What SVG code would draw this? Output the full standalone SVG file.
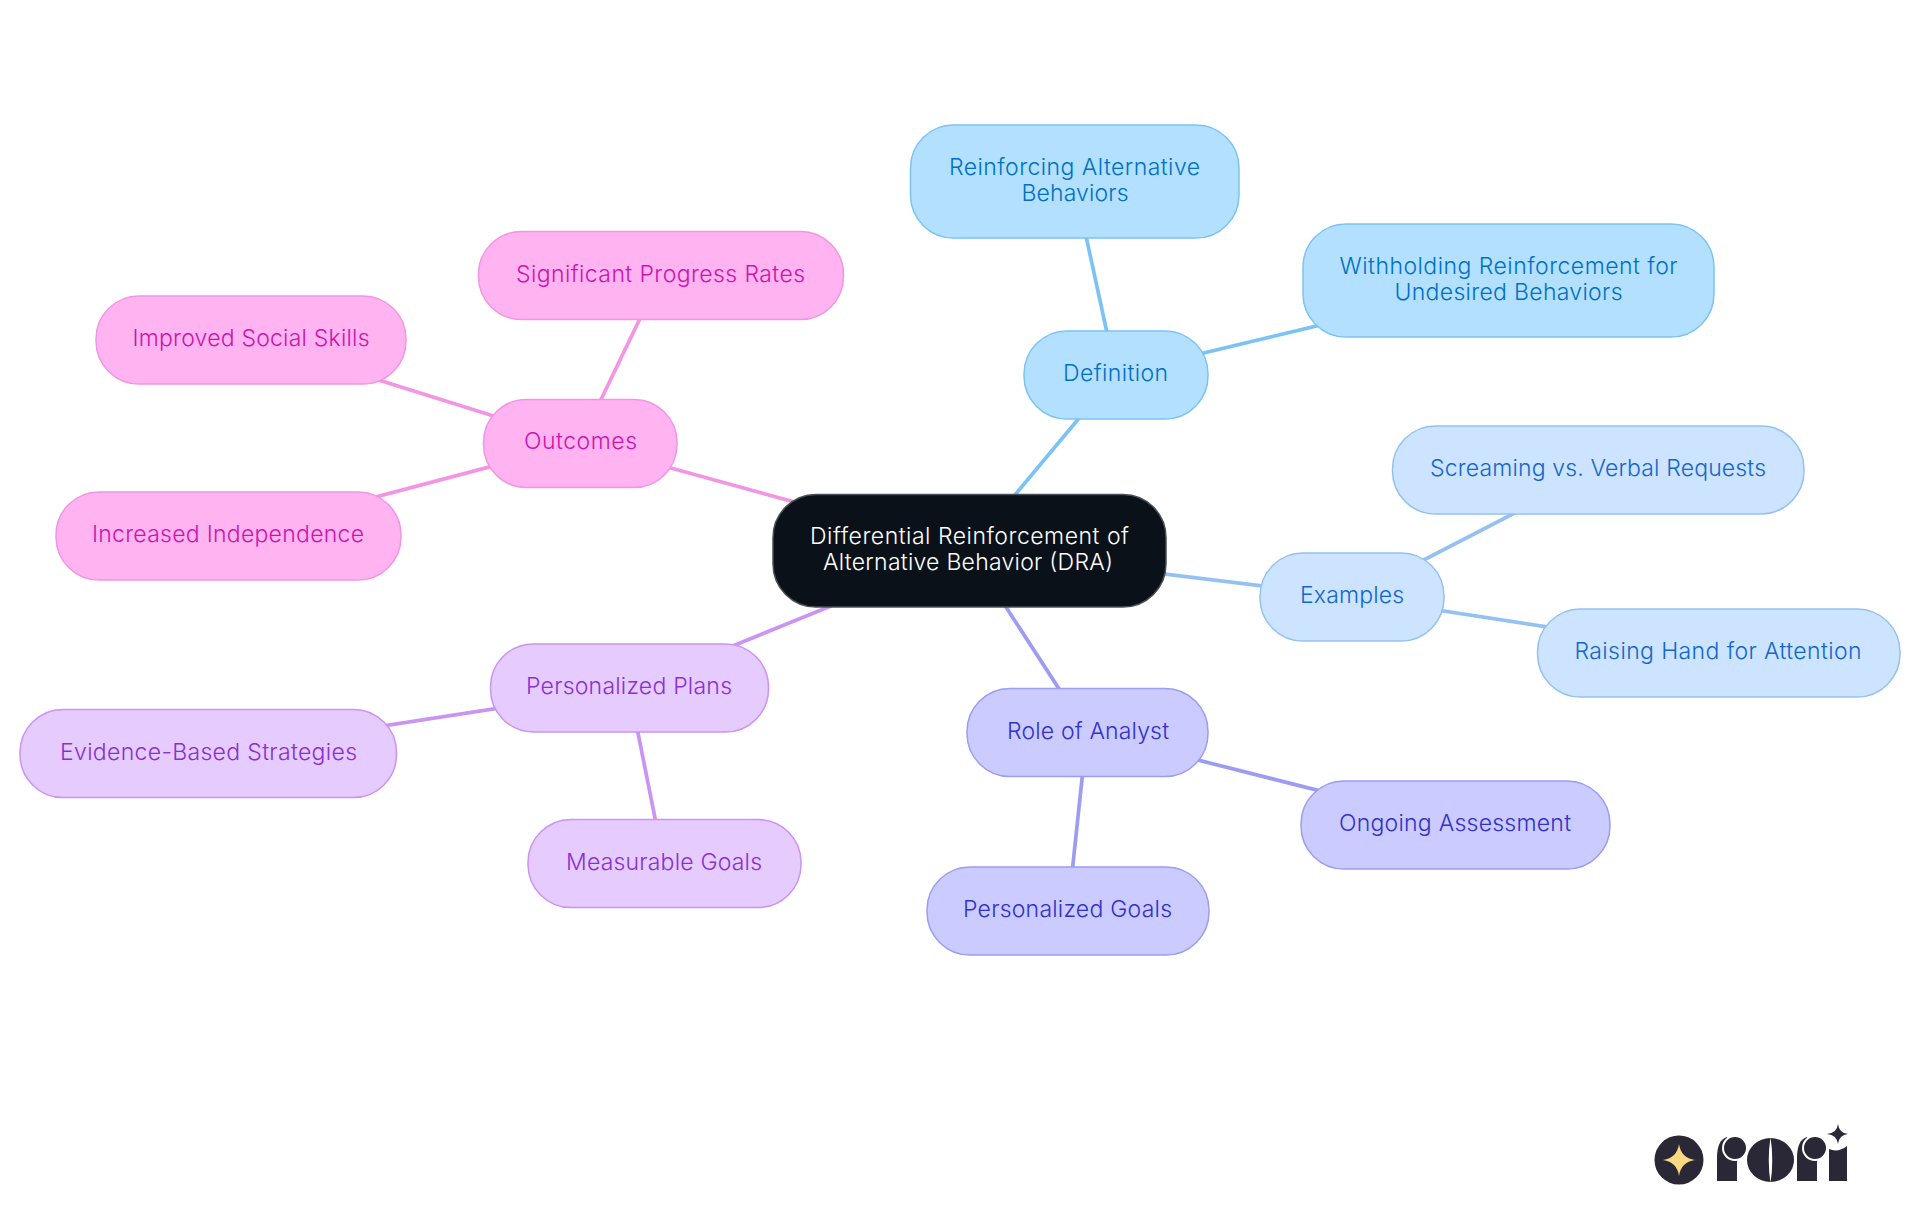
<svg xmlns="http://www.w3.org/2000/svg" width="1920" height="1215" viewBox="0 0 1920 1215">
<style>
text{font-family:"Inter","Noto Sans","Liberation Sans",sans-serif;font-size:23px;font-weight:300;text-anchor:middle}
.n{stroke-width:1.5}
#connectors line{stroke-width:3.7;fill:none}
.b1{fill:#b3e0ff;stroke:#7cc3f5}.b1t{fill:#0070c4}
.b2{fill:#cce4ff;stroke:#94c1f2}.b2t{fill:#1466cc}
.b3{fill:#cbcbff;stroke:#9c9cf2}.b3t{fill:#3030cc}
.b4{fill:#e6cbff;stroke:#c994f2}.b4t{fill:#8a2fd1}
.b5{fill:#ffb3f0;stroke:#f295e3}.b5t{fill:#cc14ad}
.logo{fill:#2a2836}
.gap{fill:#ffffff}
</style>
<rect width="1920" height="1215" fill="#ffffff"/>
<g id="connectors">
<line x1="969" y1="550" x2="1116" y2="374" stroke="#7cc3f5"/>
<line x1="1116" y1="374" x2="1074" y2="181" stroke="#7cc3f5"/>
<line x1="1116" y1="374" x2="1508" y2="280" stroke="#7cc3f5"/>
<line x1="969" y1="550" x2="1352" y2="597" stroke="#94c1f2"/>
<line x1="1352" y1="597" x2="1598" y2="470" stroke="#94c1f2"/>
<line x1="1352" y1="597" x2="1718" y2="653" stroke="#94c1f2"/>
<line x1="969" y1="550" x2="1087" y2="732" stroke="#9c9cf2"/>
<line x1="1087" y1="732" x2="1455" y2="825" stroke="#9c9cf2"/>
<line x1="1087" y1="732" x2="1068" y2="911" stroke="#9c9cf2"/>
<line x1="969" y1="550" x2="629" y2="688" stroke="#c994f2"/>
<line x1="629" y1="688" x2="208" y2="753" stroke="#c994f2"/>
<line x1="629" y1="688" x2="664" y2="863" stroke="#c994f2"/>
<line x1="969" y1="550" x2="580" y2="443" stroke="#f295e3"/>
<line x1="580" y1="443" x2="661" y2="275" stroke="#f295e3"/>
<line x1="580" y1="443" x2="251" y2="340" stroke="#f295e3"/>
<line x1="580" y1="443" x2="228" y2="536" stroke="#f295e3"/>
</g>
<g id="center"><rect class="n" x="773" y="494.500" width="393" height="112.500" rx="43" fill="#0a1119" stroke="#4a4f55"/>
<text x="969.500" y="543.500" fill="#ffffff" textLength="319">Differential Reinforcement of</text>
<text x="968" y="569.500" fill="#ffffff" textLength="290">Alternative Behavior (DRA)</text></g>
<g id="definition"><rect class="n b1" x="1024" y="331" width="184" height="88" rx="43"/><text class="b1t" x="1115.500" y="381" textLength="105">Definition</text></g>
<g id="reinforcing"><rect class="n b1" x="910.500" y="125" width="328.500" height="113" rx="43"/><text class="b1t" x="1074.500" y="175" textLength="251">Reinforcing Alternative</text><text class="b1t" x="1075" y="201" textLength="107">Behaviors</text></g>
<g id="withholding"><rect class="n b1" x="1303" y="224" width="411" height="113" rx="43"/><text class="b1t" x="1508.500" y="274" textLength="338">Withholding Reinforcement for</text><text class="b1t" x="1508.500" y="300" textLength="228">Undesired Behaviors</text></g>
<g id="examples"><rect class="n b2" x="1260" y="553" width="184" height="88" rx="43"/><text class="b2t" x="1352" y="603" textLength="104">Examples</text></g>
<g id="screaming"><rect class="n b2" x="1392.500" y="426" width="411.500" height="88" rx="43"/><text class="b2t" x="1598" y="476" textLength="336">Screaming vs. Verbal Requests</text></g>
<g id="raising"><rect class="n b2" x="1537.500" y="609" width="362.500" height="88" rx="43"/><text class="b2t" x="1718" y="659" textLength="287">Raising Hand for Attention</text></g>
<g id="role"><rect class="n b3" x="967" y="688.500" width="241" height="88" rx="43"/><text class="b3t" x="1088" y="738.500" textLength="162">Role of Analyst</text></g>
<g id="ongoing"><rect class="n b3" x="1301" y="781" width="309" height="88" rx="43"/><text class="b3t" x="1455" y="831" textLength="232">Ongoing Assessment</text></g>
<g id="goals"><rect class="n b3" x="927" y="867" width="282" height="88" rx="43"/><text class="b3t" x="1067.500" y="917" textLength="209">Personalized Goals</text></g>
<g id="plans"><rect class="n b4" x="490.500" y="644" width="278" height="88" rx="43"/><text class="b4t" x="629" y="694" textLength="206">Personalized Plans</text></g>
<g id="evidence"><rect class="n b4" x="20" y="709.500" width="376.500" height="88" rx="43"/><text class="b4t" x="208.500" y="759.500" textLength="297">Evidence-Based Strategies</text></g>
<g id="measurable"><rect class="n b4" x="528" y="819.500" width="273" height="88" rx="43"/><text class="b4t" x="664" y="869.500" textLength="196">Measurable Goals</text></g>
<g id="outcomes"><rect class="n b5" x="483.500" y="399.500" width="193.500" height="88" rx="43"/><text class="b5t" x="580.500" y="449" textLength="113">Outcomes</text></g>
<g id="significant"><rect class="n b5" x="478.500" y="231.500" width="365" height="88" rx="43"/><text class="b5t" x="660.500" y="281.500" textLength="289">Significant Progress Rates</text></g>
<g id="improved"><rect class="n b5" x="96" y="296" width="310" height="88" rx="43"/><text class="b5t" x="251" y="346" textLength="237">Improved Social Skills</text></g>
<g id="increased"><rect class="n b5" x="56" y="492" width="345" height="88" rx="43"/><text class="b5t" x="228" y="542" textLength="272">Increased Independence</text></g>
<g id="logo">
<circle class="logo" cx="1679" cy="1160" r="24.500"/>
<path fill="#fcd980" d="M1679 1144Q1681 1158 1695 1160Q1681 1162 1679 1176Q1677 1162 1663 1160Q1677 1158 1679 1144Z"/>
<path class="logo" d="M1717 1181V1158Q1717 1140 1727 1137L1737 1160V1181Z"/>
<circle class="gap" cx="1735" cy="1148" r="13"/>
<circle class="logo" cx="1735" cy="1148" r="11"/>
<ellipse class="logo" cx="1770.500" cy="1160" rx="23.500" ry="22"/>
<path class="gap" d="M1770.500 1137Q1767 1160 1770.500 1183Q1774 1160 1770.500 1137Z"/>
<path class="logo" d="M1797 1181V1158Q1797 1140 1807 1137L1817 1160V1181Z"/>
<circle class="gap" cx="1815" cy="1148" r="13"/>
<circle class="logo" cx="1815" cy="1148" r="11"/>
<path class="logo" d="M1829 1181V1149Q1838 1153 1847 1146V1181Z"/>
<path class="logo" d="M1838 1124Q1839 1133 1848 1134Q1839 1135 1838 1144Q1837 1135 1827 1134Q1837 1133 1838 1124Z"/>
</g>
</svg>
